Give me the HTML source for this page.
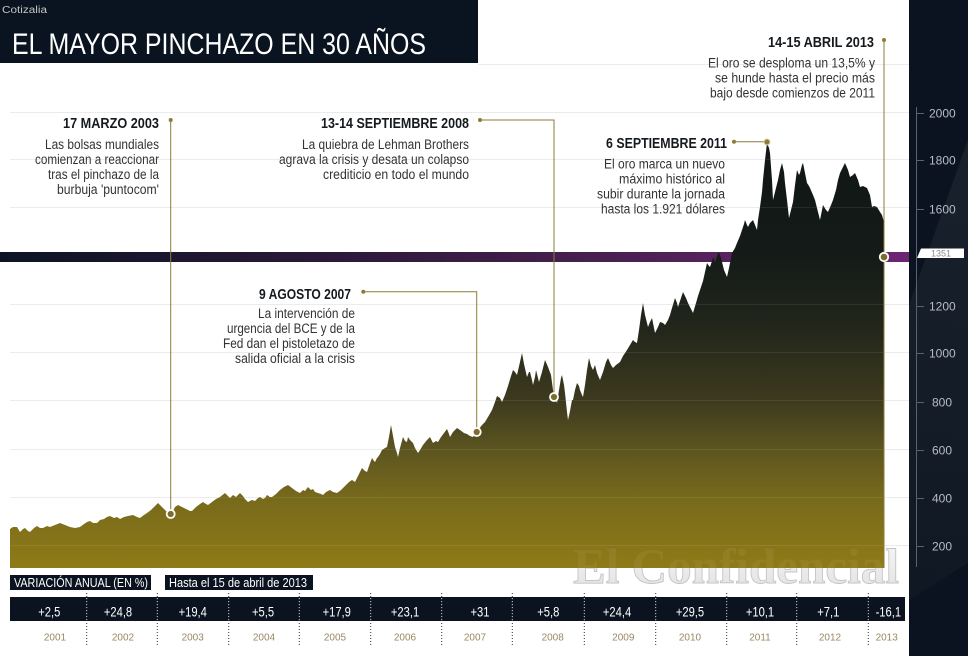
<!DOCTYPE html>
<html><head><meta charset="utf-8"><style>
html,body{margin:0;padding:0;background:#fff;}
svg{display:block;}
text{font-family:"Liberation Sans",sans-serif;}
</style></head><body>
<svg width="971" height="656" viewBox="0 0 971 656" xmlns="http://www.w3.org/2000/svg">
<defs>
<linearGradient id="ag" gradientUnits="userSpaceOnUse" x1="0" y1="140" x2="0" y2="568">
<stop offset="0" stop-color="#111715"/>
<stop offset="0.26" stop-color="#141a17"/>
<stop offset="0.44" stop-color="#22261b"/>
<stop offset="0.61" stop-color="#3d3a1e"/>
<stop offset="0.72" stop-color="#5c5420"/>
<stop offset="0.84" stop-color="#786a1c"/>
<stop offset="1" stop-color="#8e7b17"/>
</linearGradient>
<linearGradient id="bg" gradientUnits="userSpaceOnUse" x1="0" y1="0" x2="909" y2="0">
<stop offset="0" stop-color="#0c1424"/>
<stop offset="0.33" stop-color="#281837"/>
<stop offset="0.66" stop-color="#48204f"/>
<stop offset="1" stop-color="#6c2474"/>
</linearGradient>
<linearGradient id="pg" gradientUnits="userSpaceOnUse" x1="909" y1="600" x2="968" y2="140">
<stop offset="0" stop-color="#101824"/>
<stop offset="1" stop-color="#19212c"/>
</linearGradient>
<linearGradient id="wg" gradientUnits="userSpaceOnUse" x1="0" y1="546" x2="0" y2="584">
<stop offset="0" stop-color="#f4f4f4"/>
<stop offset="1" stop-color="#e4e4e4"/>
</linearGradient>
</defs>

<!-- header -->
<rect x="0" y="0" width="478" height="63" fill="#0a1320"/>
<text x="2" y="13" font-size="10" fill="#c4c4c4" textLength="45" lengthAdjust="spacingAndGlyphs">Cotizalia</text>
<text x="12" y="54" font-size="30" fill="#ffffff" textLength="414" lengthAdjust="spacingAndGlyphs">EL MAYOR PINCHAZO EN 30 AÑOS</text>

<!-- gridlines behind -->
<g stroke="#ebebeb" stroke-width="1">
<line x1="478" y1="64.5" x2="909" y2="64.5"/>
<line x1="10" y1="112.5" x2="909" y2="112.5"/>
<line x1="10" y1="159.5" x2="909" y2="159.5"/>
<line x1="10" y1="207.5" x2="909" y2="207.5"/>
<line x1="10" y1="304.5" x2="909" y2="304.5"/>
<line x1="10" y1="352.5" x2="909" y2="352.5"/>
<line x1="10" y1="400.5" x2="909" y2="400.5"/>
<line x1="10" y1="449.5" x2="909" y2="449.5"/>
<line x1="10" y1="497.5" x2="909" y2="497.5"/>
<line x1="10" y1="545.5" x2="909" y2="545.5"/>
</g>

<!-- watermark (behind area) -->
<text x="573" y="583" font-size="50" font-weight="bold" fill="url(#wg)" stroke="#c2c2c2" stroke-width="0.9" textLength="326" lengthAdjust="spacingAndGlyphs" style="font-family:'Liberation Serif',serif">El Confidencial</text>

<!-- purple band -->
<rect x="0" y="252" width="909" height="10" fill="url(#bg)"/>

<!-- area -->
<polygon fill="url(#ag)" points="10,529 13,527 17,527 20,532 23,529 25,528 28,531 30,532 34,528 37,526 40,528 43,528 47,526 50,527 55,525 60,523 65,525 70,527 75,528 80,527 84,524 87,522 90,521 93,523 97,523 100,520 104,519 107,517 110,516 114,518 117,517 120,519 124,517 128,516 133,515 137,517 140,518 144,515 147,513 151,510 155,506 158,503 161,506 165,510 168,513 170,514 173,511 175,507 178,505 182,507 186,509 190,511 192,511 196,507 200,504 203,502 206,504 208,505 212,502 216,499 220,497 225,493 228,496 230,498 233,495 236,497 240,493 243,496 245,499 248,502 252,500 255,501 258,498 260,497 263,499 265,498 267,495 270,497 272,497 276,494 280,490 284,487 288,485 292,488 296,491 300,493 303,490 305,491 308,487 311,490 313,489 315,492 318,493 321,494 323,495 326,492 328,491 330,490 333,492 337,493 341,490 345,486 349,482 352,480 355,482 358,476 362,468 365,471 367,472 369,466 372,458 374,461 375,462 377,458 378,457 380,454 382,450 385,448 387,447 389,437 391,425 393,436 395,447 397,453 398,457 400,448 403,437 405,441 407,442 408,437 410,440 413,443 415,448 418,453 420,450 423,445 427,440 430,437 432,441 433,443 436,441 438,442 441,437 444,433 447,429 449,434 450,437 453,432 457,428 460,430 464,433 467,434 470,436 473,437 476,432 479,429 482,425 485,422 488,417 492,410 495,402 497,396 500,398 502,402 505,395 508,386 511,376 513,370 515,372 517,375 520,362 522,353 524,364 527,377 529,372 530,372 532,380 533,385 535,377 536,370 538,378 539,382 542,372 545,360 548,367 551,375 553,390 554,397 556,400 557,403 559,390 561,378 562,375 564,385 565,393 567,412 568,420 570,411 572,400 573,400 575,390 577,383 579,386 580,390 582,395 583,397 585,385 587,370 589,358 591,366 593,370 595,365 597,373 600,380 603,372 606,362 608,358 611,365 613,368 616,365 620,362 623,356 627,350 630,345 633,340 635,342 637,343 639,330 641,315 643,303 645,315 648,327 650,322 652,318 654,328 655,333 658,327 660,322 663,323 665,325 668,320 670,315 672,308 675,298 677,303 678,307 681,298 683,292 686,298 688,303 691,309 693,313 696,303 698,296 700,290 703,281 705,272 707,263 709,266 710,267 712,261 713,257 715,262 717,256 719,252 721,258 722,262 724,270 727,277 729,268 731,258 732,253 735,248 737,243 740,236 742,230 744,224 745,220 747,225 748,227 750,223 753,220 755,225 757,230 758,220 760,207 762,192 763,180 765,160 767,143 769,148 770,153 772,180 773,200 775,192 778,180 780,170 782,163 784,172 785,183 787,200 789,218 791,210 793,202 795,185 797,170 799,175 800,173 802,165 803,163 805,173 807,183 809,186 810,188 813,195 815,200 818,212 820,220 822,210 823,205 826,210 828,212 831,205 833,200 836,190 838,180 840,173 843,167 845,163 848,170 850,177 853,175 855,173 858,180 860,187 863,186 867,188 870,195 872,207 874,206 877,207 880,212 882,215 884,222 884,568 10,568"/>

<!-- faint watermark through area -->
<text x="573" y="583" font-size="50" font-weight="bold" fill="#ffffff" fill-opacity="0.06" textLength="326" lengthAdjust="spacingAndGlyphs" style="font-family:'Liberation Serif',serif">El Confidencial</text>

<!-- gridlines overlay on area -->
<g stroke="#ffffff" stroke-opacity="0.08" stroke-width="1">
<line x1="10" y1="159.5" x2="884" y2="159.5"/>
<line x1="10" y1="207.5" x2="884" y2="207.5"/>
<line x1="10" y1="304.5" x2="884" y2="304.5"/>
<line x1="10" y1="352.5" x2="884" y2="352.5"/>
<line x1="10" y1="400.5" x2="884" y2="400.5"/>
<line x1="10" y1="449.5" x2="884" y2="449.5"/>
<line x1="10" y1="497.5" x2="884" y2="497.5"/>
<line x1="10" y1="545.5" x2="884" y2="545.5"/>
</g>

<!-- right panel -->
<rect x="909" y="0" width="59" height="656" fill="#0b1321"/>
<polygon points="909,305 968,140 968,563 909,600" fill="url(#pg)"/>
<line x1="916.5" y1="107" x2="916.5" y2="567" stroke="#5a6270" stroke-width="1"/>
<g stroke="#5a6270" stroke-width="1">
<line x1="916" y1="113.5" x2="924" y2="113.5"/>
<line x1="916" y1="160.5" x2="924" y2="160.5"/>
<line x1="916" y1="209.5" x2="924" y2="209.5"/>
<line x1="916" y1="306.5" x2="924" y2="306.5"/>
<line x1="916" y1="353.5" x2="924" y2="353.5"/>
<line x1="916" y1="402.5" x2="924" y2="402.5"/>
<line x1="916" y1="450.5" x2="924" y2="450.5"/>
<line x1="916" y1="498.5" x2="924" y2="498.5"/>
<line x1="916" y1="546.5" x2="924" y2="546.5"/>
</g>
<g font-size="12" fill="#b8bcc4">
<text x="929" y="117.5">2000</text>
<text x="929" y="164.5">1800</text>
<text x="929" y="213.5">1600</text>
<text x="929" y="310.5">1200</text>
<text x="929" y="357.5">1000</text>
<text x="932" y="406.5">800</text>
<text x="932" y="454.5">600</text>
<text x="932" y="502.5">400</text>
<text x="932" y="550.5">200</text>
</g>
<polygon points="917,258 921,248.5 964,248.5 964,258" fill="#ffffff"/>
<text x="941" y="256.5" font-size="9" fill="#8a8a8a" text-anchor="middle">1351</text>

<!-- annotation lines -->
<g stroke="#8c7c35" stroke-width="1" fill="none">
<line x1="170.7" y1="120" x2="170.7" y2="514"/>
<polyline points="480,120 554,120 554,397"/>
<polyline points="363.3,291.7 476.7,291.7 476.7,432"/>
<line x1="734" y1="141.7" x2="767" y2="141.7"/>
<line x1="884" y1="40" x2="884" y2="568"/>
</g>
<g fill="#8c7c35">
<circle cx="170.7" cy="120" r="2"/>
<circle cx="480" cy="120" r="2"/>
<circle cx="363.3" cy="291.7" r="2"/>
<circle cx="734" cy="141.7" r="2"/>
<circle cx="884" cy="40" r="2"/>
</g>
<g stroke="#ffffff" stroke-width="1.8" fill="#7d6d2c">
<circle cx="170.7" cy="514" r="4"/>
<circle cx="476.7" cy="432" r="4"/>
<circle cx="554" cy="397" r="4"/>
<circle cx="884" cy="257" r="4.2"/>
</g>
<circle cx="767" cy="142" r="3" fill="#8c7c35" stroke="#d9d2a8" stroke-width="1"/>

<!-- annotation texts -->
<g font-weight="bold" font-size="15" fill="#161a1e">
<text x="63" y="128" textLength="96" lengthAdjust="spacingAndGlyphs">17 MARZO 2003</text>
<text x="321" y="128" textLength="148" lengthAdjust="spacingAndGlyphs">13-14 SEPTIEMBRE 2008</text>
<text x="259" y="299" textLength="92" lengthAdjust="spacingAndGlyphs">9 AGOSTO 2007</text>
<text x="606" y="148" textLength="121" lengthAdjust="spacingAndGlyphs">6 SEPTIEMBRE 2011</text>
<text x="768" y="47" textLength="106" lengthAdjust="spacingAndGlyphs">14-15 ABRIL 2013</text>
</g>
<g font-size="13.5" fill="#333333">
<text x="45" y="149" textLength="114" lengthAdjust="spacingAndGlyphs">Las bolsas mundiales</text>
<text x="35" y="164" textLength="124" lengthAdjust="spacingAndGlyphs">comienzan a reaccionar</text>
<text x="48" y="179" textLength="111" lengthAdjust="spacingAndGlyphs">tras el pinchazo de la</text>
<text x="57" y="194" textLength="102" lengthAdjust="spacingAndGlyphs">burbuja 'puntocom'</text>

<text x="302" y="149" textLength="167" lengthAdjust="spacingAndGlyphs">La quiebra de Lehman Brothers</text>
<text x="279" y="164" textLength="190" lengthAdjust="spacingAndGlyphs">agrava la crisis y desata un colapso</text>
<text x="323" y="179" textLength="146" lengthAdjust="spacingAndGlyphs">crediticio en todo el mundo</text>

<text x="258" y="318" textLength="97" lengthAdjust="spacingAndGlyphs">La intervención de</text>
<text x="227" y="333" textLength="128" lengthAdjust="spacingAndGlyphs">urgencia del BCE y de la</text>
<text x="223" y="348" textLength="132" lengthAdjust="spacingAndGlyphs">Fed dan el pistoletazo de</text>
<text x="235" y="363" textLength="120" lengthAdjust="spacingAndGlyphs">salida oficial a la crisis</text>

<text x="604" y="168.5" textLength="121" lengthAdjust="spacingAndGlyphs">El oro marca un nuevo</text>
<text x="619" y="183.5" textLength="106" lengthAdjust="spacingAndGlyphs">máximo histórico al</text>
<text x="597" y="198.5" textLength="128" lengthAdjust="spacingAndGlyphs">subir durante la jornada</text>
<text x="601" y="213.5" textLength="124" lengthAdjust="spacingAndGlyphs">hasta los 1.921 dólares</text>

<text x="708" y="67.5" textLength="167" lengthAdjust="spacingAndGlyphs">El oro se desploma un 13,5% y</text>
<text x="715" y="82.5" textLength="160" lengthAdjust="spacingAndGlyphs">se hunde hasta el precio más</text>
<text x="710" y="97.5" textLength="165" lengthAdjust="spacingAndGlyphs">bajo desde comienzos de 2011</text>
</g>

<!-- table -->
<rect x="10" y="575" width="141" height="15" fill="#0b1220"/>
<rect x="165" y="575" width="148" height="15" fill="#0b1220"/>
<text x="14" y="587" font-size="13" fill="#ffffff" textLength="134" lengthAdjust="spacingAndGlyphs">VARIACIÓN ANUAL (EN %)</text>
<text x="169" y="587" font-size="13" fill="#ffffff" textLength="138" lengthAdjust="spacingAndGlyphs">Hasta el 15 de abril de 2013</text>

<rect x="10" y="597" width="895" height="24" fill="#0b1220"/>

<g stroke="#333" stroke-width="1" stroke-dasharray="1,2">
<line x1="86.7" y1="593" x2="86.7" y2="646"/>
<line x1="157.3" y1="593" x2="157.3" y2="646"/>
<line x1="228.7" y1="593" x2="228.7" y2="646"/>
<line x1="299.3" y1="593" x2="299.3" y2="646"/>
<line x1="370.7" y1="593" x2="370.7" y2="646"/>
<line x1="441.7" y1="593" x2="441.7" y2="646"/>
<line x1="512.3" y1="593" x2="512.3" y2="646"/>
<line x1="584.3" y1="593" x2="584.3" y2="646"/>
<line x1="655.7" y1="593" x2="655.7" y2="646"/>
<line x1="726.7" y1="593" x2="726.7" y2="646"/>
<line x1="796.7" y1="593" x2="796.7" y2="646"/>
<line x1="868.3" y1="593" x2="868.3" y2="646"/>
</g>
<g stroke="#d0d0d0" stroke-width="1" stroke-dasharray="1,2">
<line x1="86.7" y1="598" x2="86.7" y2="621"/>
<line x1="157.3" y1="598" x2="157.3" y2="621"/>
<line x1="228.7" y1="598" x2="228.7" y2="621"/>
<line x1="299.3" y1="598" x2="299.3" y2="621"/>
<line x1="370.7" y1="598" x2="370.7" y2="621"/>
<line x1="441.7" y1="598" x2="441.7" y2="621"/>
<line x1="512.3" y1="598" x2="512.3" y2="621"/>
<line x1="584.3" y1="598" x2="584.3" y2="621"/>
<line x1="655.7" y1="598" x2="655.7" y2="621"/>
<line x1="726.7" y1="598" x2="726.7" y2="621"/>
<line x1="796.7" y1="598" x2="796.7" y2="621"/>
<line x1="868.3" y1="598" x2="868.3" y2="621"/>
</g>

<g transform="scale(0.8,1)" font-size="14" fill="#ffffff" text-anchor="middle">
<text x="61.6" y="616.5">+2,5</text>
<text x="147.5" y="616.5">+24,8</text>
<text x="240.9" y="616.5">+19,4</text>
<text x="328.8" y="616.5">+5,5</text>
<text x="420.9" y="616.5">+17,9</text>
<text x="506.3" y="616.5">+23,1</text>
<text x="600" y="616.5">+31</text>
<text x="685.4" y="616.5">+5,8</text>
<text x="771.3" y="616.5">+24,4</text>
<text x="862.5" y="616.5">+29,5</text>
<text x="950" y="616.5">+10,1</text>
<text x="1035.4" y="616.5">+7,1</text>
<text x="1110.4" y="616.5">-16,1</text>
</g>

<g font-size="10" fill="#9a8862" text-anchor="middle">
<text x="55" y="640.5">2001</text>
<text x="123" y="640.5">2002</text>
<text x="192.7" y="640.5">2003</text>
<text x="264" y="640.5">2004</text>
<text x="335" y="640.5">2005</text>
<text x="405" y="640.5">2006</text>
<text x="475" y="640.5">2007</text>
<text x="552.7" y="640.5">2008</text>
<text x="623.3" y="640.5">2009</text>
<text x="690" y="640.5">2010</text>
<text x="760" y="640.5">2011</text>
<text x="830" y="640.5">2012</text>
<text x="886.7" y="640.5">2013</text>
</g>
</svg>
</body></html>
